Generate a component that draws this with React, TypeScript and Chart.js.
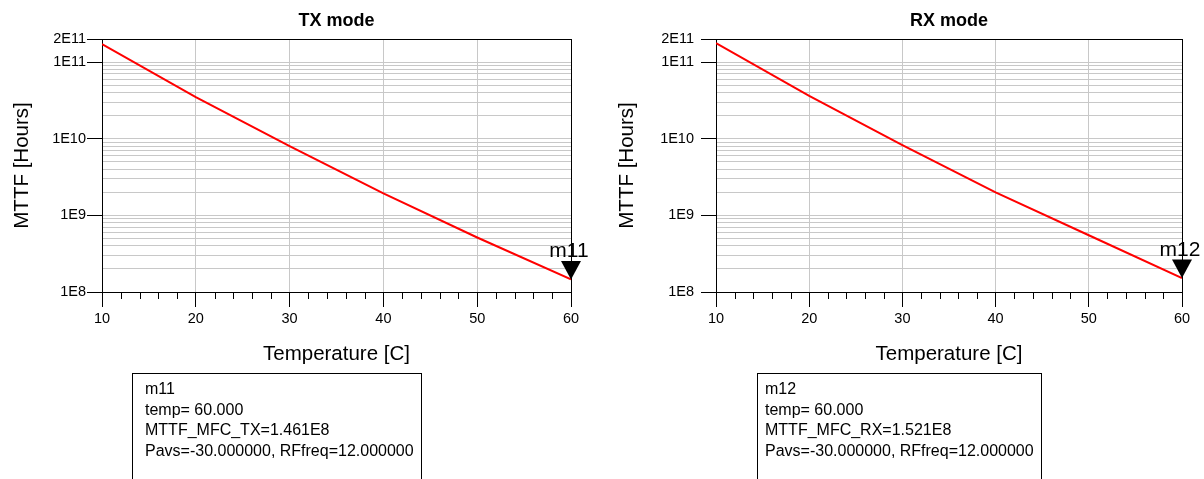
import { useEffect, useRef } from 'react';
import { Chart, registerables } from 'chart.js';

Chart.register(...registerables);

// ---------- data ----------
const temperatures = [10, 20, 30, 40, 50, 60];
const mttfTx = [1.71e11, 3.48e10, 8.03e9, 1.93e9, 5.14e8, 1.461e8];
const mttfRx = [1.77e11, 3.61e10, 8.27e9, 1.99e9, 5.5e8, 1.521e8];

const xTickLabels = [10, 20, 30, 40, 50, 60];
const xMinorTicks = [12, 14, 16, 18, 22, 24, 26, 28, 32, 34, 36, 38, 42, 44, 46, 48, 52, 54, 56, 58];
const yMajorTicks = [1e8, 1e9, 1e10, 1e11, 2e11];
const yMajorLabels = ['1E8', '1E9', '1E10', '1E11', '2E11'];
const yGridTicks = [
  1e8, 2e8, 3e8, 4e8, 5e8, 6e8, 7e8, 8e8, 9e8,
  1e9, 2e9, 3e9, 4e9, 5e9, 6e9, 7e9, 8e9, 9e9,
  1e10, 2e10, 3e10, 4e10, 5e10, 6e10, 7e10, 8e10, 9e10,
  1e11, 2e11,
];

const txTitle = 'TX mode';
const rxTitle = 'RX mode';
const txMarkerName = 'm11';
const rxMarkerName = 'm12';
const txMarkerLines = ['m11', 'temp= 60.000', 'MTTF_MFC_TX=1.461E8', 'Pavs=-30.000000, RFfreq=12.000000'];
const rxMarkerLines = ['m12', 'temp= 60.000', 'MTTF_MFC_RX=1.521E8', 'Pavs=-30.000000, RFfreq=12.000000'];

const FONT = '"Liberation Sans", Arial, sans-serif';
const GRID = '#c8c8c8';
const CLEAR = 'rgba(0,0,0,0)';

const near = (a: number, b: number) => Math.abs(a - b) / Math.abs(b) < 1e-6;

type Cfg = {
  title: string;
  values: number[];
  markerName: string;
  markerLines: string[];
  yWidth: number;
  yLabelPad: number;
  yTitlePad: number;
  padRight: number;
  boxLeft: number;
  textInset: number;
};

function buildChart(canvas: HTMLCanvasElement, cfg: Cfg) {
  const decor = {
    id: 'decor',
    afterDraw(chart: any) {
      const ctx = chart.ctx;
      const area = chart.chartArea;
      const xs = chart.scales.x;
      ctx.save();
      // minor x ticks
      ctx.strokeStyle = '#000';
      ctx.lineWidth = 1;
      ctx.beginPath();
      for (const v of xMinorTicks) {
        const px = Math.round(xs.getPixelForValue(v)) + 0.5;
        ctx.moveTo(px, area.bottom);
        ctx.lineTo(px, area.bottom + 7);
      }
      ctx.stroke();

      // chart title
      ctx.fillStyle = '#000';
      ctx.font = `bold 18px ${FONT}`;
      ctx.textAlign = 'center';
      ctx.textBaseline = 'middle';
      ctx.fillText(cfg.title, (area.left + area.right) / 2, 21);

      // marker
      const meta = chart.getDatasetMeta(0);
      const pt = meta.data[meta.data.length - 1];
      ctx.beginPath();
      ctx.moveTo(pt.x, pt.y);
      ctx.lineTo(pt.x - 10, pt.y - 18.5);
      ctx.lineTo(pt.x + 10, pt.y - 18.5);
      ctx.closePath();
      ctx.fill();
      ctx.font = `21px ${FONT}`;
      ctx.textAlign = 'center';
      ctx.textBaseline = 'alphabetic';
      ctx.fillText(cfg.markerName, pt.x - 2, pt.y - 22.5);

      // annotation box
      ctx.font = `16px ${FONT}`;
      ctx.textAlign = 'left';
      let w = 0;
      for (const l of cfg.markerLines) w = Math.max(w, ctx.measureText(l).width);
      const boxW = Math.round(w + cfg.textInset + 7);
      ctx.strokeStyle = '#000';
      ctx.strokeRect(cfg.boxLeft + 0.5, 373.5, boxW, 200);
      const baselines = [394, 415, 435, 456];
      cfg.markerLines.forEach((l, i) => {
        ctx.fillText(l, cfg.boxLeft + cfg.textInset, baselines[i]);
      });
      ctx.restore();
    },
  };

  return new Chart(canvas, {
    type: 'line',
    data: {
      labels: temperatures,
      datasets: [
        {
          data: temperatures.map((t, i) => ({ x: t, y: cfg.values[i] })),
          borderColor: '#ff0000',
          borderWidth: 2,
          pointRadius: 0,
          tension: 0,
          fill: false,
        },
      ],
    },
    options: {
      animation: false,
      responsive: false,
      events: [],
      layout: { padding: { top: 39, right: cfg.padRight, left: 0, bottom: 0 } },
      plugins: { legend: { display: false }, tooltip: { enabled: false }, title: { display: false } },
      scales: {
        x: {
          type: 'linear',
          min: 10,
          max: 60,
          afterFit: (s: any) => {
            s.height = 187;
          },
          ticks: {
            stepSize: 2,
            autoSkip: false,
            maxRotation: 0,
            padding: 3,
            color: '#000',
            font: { family: FONT, size: 14.5 },
            callback: (v: any) => (xTickLabels.includes(Number(v)) ? String(v) : ''),
          },
          grid: {
            color: (c: any) => {
              const v = c.tick ? c.tick.value : NaN;
              if (v === 10 || v === 60) return '#000';
              return xTickLabels.includes(v) ? GRID : CLEAR;
            },
            tickColor: (c: any) => (c.tick && xTickLabels.includes(c.tick.value) ? '#000' : CLEAR),
            tickLength: 15,
            lineWidth: 1,
          },
          border: { display: true, color: '#000', width: 1 },
          title: {
            display: true,
            text: 'Temperature [C]',
            color: '#000',
            font: { family: FONT, size: 20.5 },
            padding: { top: 0, bottom: 112 },
          },
        },
        y: {
          type: 'logarithmic',
          min: 1e8,
          max: 2e11,
          afterFit: (s: any) => {
            s.width = cfg.yWidth;
          },
          afterBuildTicks: (s: any) => {
            s.ticks = yGridTicks.map((v) => ({ value: v }));
          },
          ticks: {
            autoSkip: false,
            padding: cfg.yLabelPad,
            color: '#000',
            font: { family: FONT, size: 14.5 },
            callback: (v: any) => {
              const idx = yMajorTicks.findIndex((m) => near(Number(v), m));
              return idx >= 0 ? yMajorLabels[idx] : '';
            },
          },
          grid: {
            color: (c: any) => {
              const v = c.tick ? c.tick.value : NaN;
              if (near(v, 2e11) || near(v, 1e8)) return '#000';
              return GRID;
            },
            tickColor: (c: any) =>
              c.tick && yMajorTicks.some((m) => near(c.tick.value, m)) ? '#000' : CLEAR,
            tickLength: 15,
            lineWidth: 1,
          },
          border: { display: true, color: '#000', width: 1 },
          title: {
            display: true,
            text: 'MTTF [Hours]',
            color: '#000',
            font: { family: FONT, size: 20.5 },
            padding: { top: cfg.yTitlePad, bottom: 0 },
          },
        },
      },
    },
    plugins: [decor],
  } as any);
}

function Panel({ cfg }: { cfg: Cfg }) {
  const ref = useRef<HTMLCanvasElement>(null);
  useEffect(() => {
    if (!ref.current) return;
    const chart = buildChart(ref.current, cfg);
    return () => chart.destroy();
  }, []);
  return <canvas ref={ref} width={602} height={479} style={{ display: 'block', width: 602, height: 479 }} />;
}

const txCfg: Cfg = {
  title: txTitle,
  values: mttfTx,
  markerName: txMarkerName,
  markerLines: txMarkerLines,
  yWidth: 102,
  yLabelPad: 1,
  yTitlePad: 10,
  padRight: 31,
  boxLeft: 132,
  textInset: 13,
};

const rxCfg: Cfg = {
  title: rxTitle,
  values: mttfRx,
  markerName: rxMarkerName,
  markerLines: rxMarkerLines,
  yWidth: 114,
  yLabelPad: 7,
  yTitlePad: 13,
  padRight: 22,
  boxLeft: 155,
  textInset: 8,
};

export default function App() {
  return (
    <div
      style={{
        position: 'absolute',
        left: 0,
        top: 0,
        width: 1204,
        height: 479,
        display: 'flex',
        background: '#fff',
        overflow: 'hidden',
      }}
    >
      <Panel cfg={txCfg} />
      <Panel cfg={rxCfg} />
    </div>
  );
}
